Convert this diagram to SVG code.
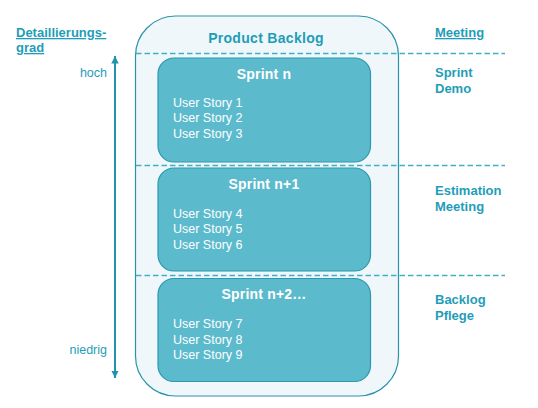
<svg xmlns="http://www.w3.org/2000/svg" width="538" height="408" viewBox="0 0 538 408">
<style>
.t{font-family:"Liberation Sans",Arial,sans-serif;fill:#1f9db8}
.b{font-weight:bold;font-size:13px}
.u{text-decoration:underline}
.n{font-size:12.5px}
.w{font-family:"Liberation Sans",Arial,sans-serif;fill:#ffffff}
.title{font-weight:bold;font-size:14px}
.story{font-size:12.5px}
.sprint{fill:#5cbacd;stroke:#2b98ae;stroke-width:1.2}
.dash{stroke:#3fb0c6;stroke-width:1.3;stroke-dasharray:5.5 3;fill:none}
</style>
<defs>
<marker id="ah" viewBox="0 0 10 10" refX="10" refY="5" markerWidth="7.5" markerHeight="7.5" markerUnits="userSpaceOnUse" orient="auto-start-reverse">
<path d="M0,0 L10,5 L0,10 z" fill="#2194ad"/>
</marker>
</defs>
<rect width="538" height="408" fill="#ffffff"/>
<g id="backlog">
<rect x="135.5" y="16" width="263" height="380" rx="40" ry="40" fill="#f0f7fa" stroke="#2a93aa" stroke-width="1.2"/>
<text class="t title" x="266" y="43" text-anchor="middle" letter-spacing="0.3">Product Backlog</text>
</g>
<g id="connectors">
<line class="dash" x1="136" y1="53.5" x2="505" y2="53.5"/>
<line class="dash" x1="136" y1="165.5" x2="505" y2="165.5"/>
<line class="dash" x1="136" y1="275.5" x2="505" y2="275.5"/>
<line x1="115" y1="56" x2="115" y2="378" stroke="#2194ad" stroke-width="2" marker-start="url(#ah)" marker-end="url(#ah)"/>
</g>
<g id="sprint-n">
<rect class="sprint" x="158" y="58" width="212.5" height="104" rx="16" ry="16"/>
<text class="w title" x="264" y="79" text-anchor="middle" letter-spacing="0.2">Sprint n</text>
<text class="w story" x="173" y="107">User Story 1</text>
<text class="w story" x="173" y="122">User Story 2</text>
<text class="w story" x="173" y="137.5">User Story 3</text>
</g>
<g id="sprint-n1">
<rect class="sprint" x="158" y="168" width="212.5" height="103" rx="16" ry="16"/>
<text class="w title" x="264" y="189" text-anchor="middle" letter-spacing="0.2">Sprint n+1</text>
<text class="w story" x="173" y="217.5">User Story 4</text>
<text class="w story" x="173" y="233">User Story 5</text>
<text class="w story" x="173" y="248.5">User Story 6</text>
</g>
<g id="sprint-n2">
<rect class="sprint" x="158" y="278.5" width="212.5" height="103" rx="16" ry="16"/>
<text class="w title" x="264" y="299" text-anchor="middle" letter-spacing="0.2">Sprint n+2…</text>
<text class="w story" x="173" y="328">User Story 7</text>
<text class="w story" x="173" y="343.5">User Story 8</text>
<text class="w story" x="173" y="358.5">User Story 9</text>
</g>
<g id="detail">
<text class="t b u" x="16" y="37">Detaillierungs-</text>
<text class="t b u" x="16" y="52">grad</text>
<text class="t n" x="107" y="77" text-anchor="end">hoch</text>
<text class="t n" x="107" y="354" text-anchor="end">niedrig</text>
</g>
<g id="meeting">
<text class="t b u" x="435" y="37">Meeting</text>
<text class="t b" x="435" y="77">Sprint</text>
<text class="t b" x="435" y="93">Demo</text>
<text class="t b" x="435" y="195">Estimation</text>
<text class="t b" x="435" y="211">Meeting</text>
<text class="t b" x="435" y="304">Backlog</text>
<text class="t b" x="435" y="320">Pflege</text>
</g>
</svg>
